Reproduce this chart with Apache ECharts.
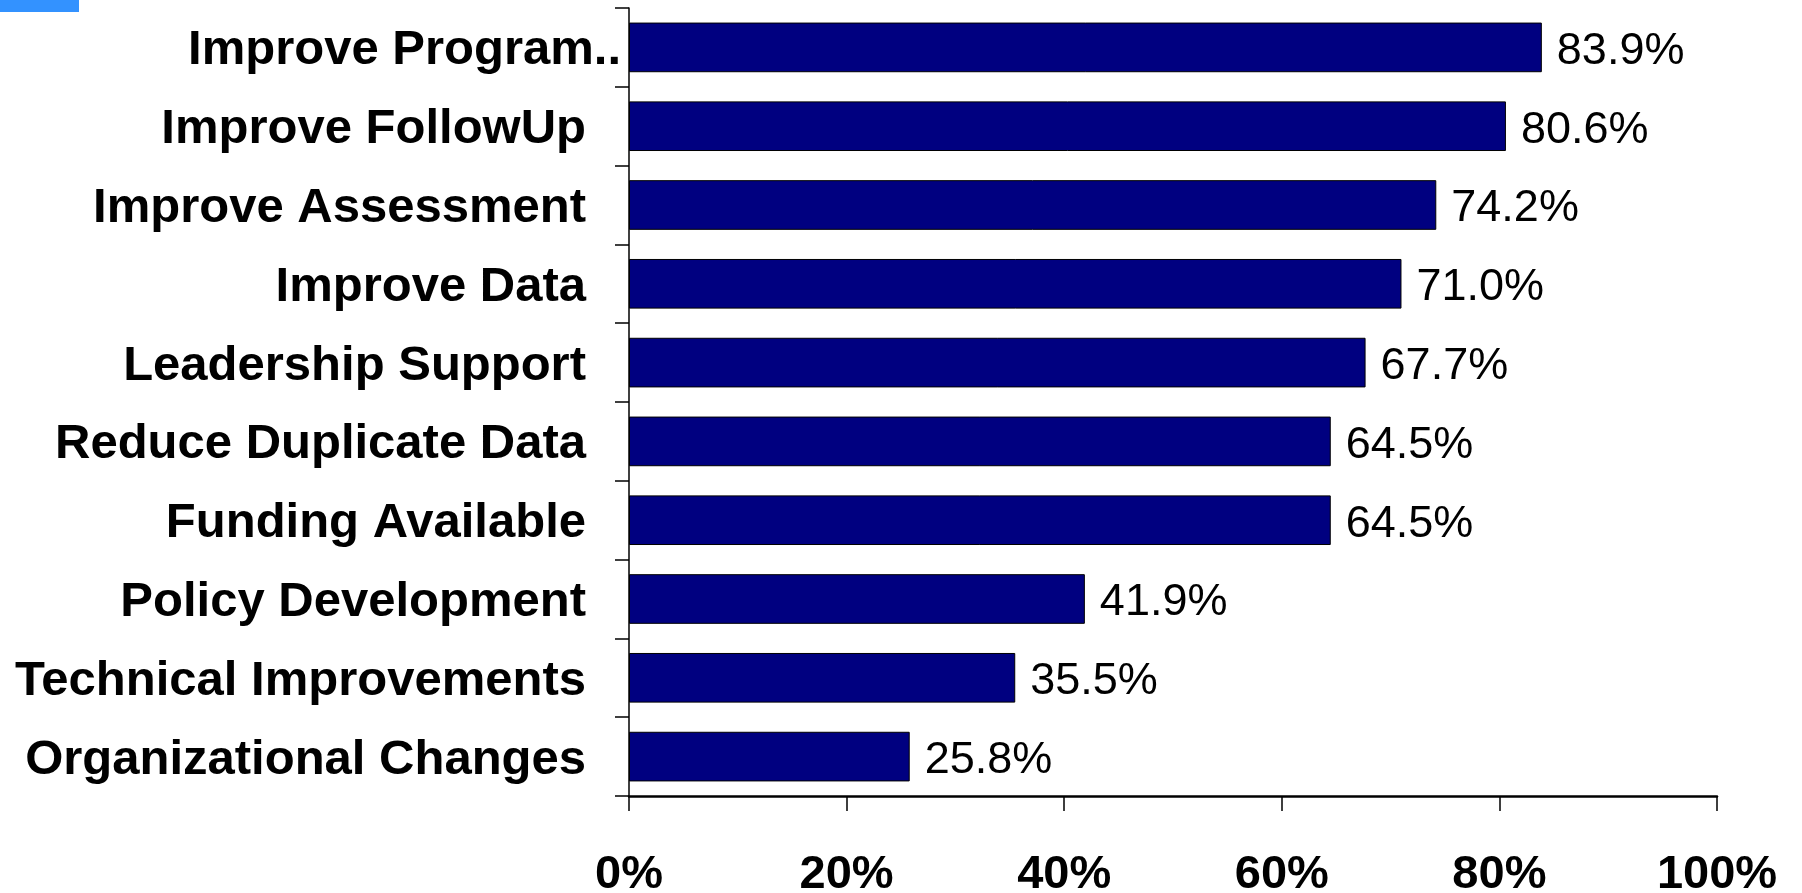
<!DOCTYPE html>
<html>
<head>
<meta charset="utf-8">
<script src="https://cdn.jsdelivr.net/npm/echarts@6/dist/echarts.min.js"></script>
<style>
  html, body { margin: 0; padding: 0; background: #ffffff; }
  #chart { width: 1802px; height: 893px; }
</style>
</head>
<body>
<div id="chart"></div>
<script>
// Share of respondents citing each factor (percent)
const categories = [
  'Improve Program..',
  'Improve FollowUp',
  'Improve Assessment',
  'Improve Data',
  'Leadership Support',
  'Reduce Duplicate Data',
  'Funding Available',
  'Policy Development',
  'Technical Improvements',
  'Organizational Changes'
];
const values = [83.9, 80.6, 74.2, 71.0, 67.7, 64.5, 64.5, 41.9, 35.5, 25.8];
const xTicks = [0, 20, 40, 60, 80, 100];

const chart = echarts.init(document.getElementById('chart'), null, { renderer: 'canvas' });

const FONT = '"Liberation Sans", Arial, Helvetica, sans-serif';

chart.setOption({
  animation: false,
  backgroundColor: '#ffffff',
  grid: {
    left: 629, right: 85, top: 8, bottom: 97,
    containLabel: false,
    outerBoundsMode: 'none'
  },
  graphic: [
    { type: 'rect', left: 0, top: 0, shape: { width: 79, height: 12 }, style: { fill: '#3392ff' } }
  ],
  xAxis: {
    type: 'value',
    min: xTicks[0],
    max: xTicks[xTicks.length - 1],
    interval: xTicks[1] - xTicks[0],
    axisLine: { show: true, lineStyle: { color: '#000', width: 2.5 } },
    axisTick: { show: true, length: 15, lineStyle: { color: '#000', width: 1.5 } },
    splitLine: { show: false },
    axisLabel: {
      margin: 56,
      formatter: '{value}%',
      fontFamily: FONT,
      fontWeight: 'bold',
      fontSize: 47,
      color: '#000'
    }
  },
  yAxis: {
    type: 'category',
    data: categories,
    inverse: true,
    axisLine: { show: true, lineStyle: { color: '#000', width: 1.5 } },
    axisTick: { show: true, length: 14, lineStyle: { color: '#000', width: 1.5 } },
    axisLabel: {
      margin: 8,
      fontFamily: FONT,
      fontWeight: 'bold',
      fontSize: 49,
      color: '#000',
      formatter: function (v, i) {
        return i === 0 ? '{t|' + v + '}' : '{n|' + v + '}';
      },
      rich: {
        t: { fontFamily: FONT, fontWeight: 'bold', fontSize: 49, color: '#000', padding: [7, 0, 0, 0] },
        n: { fontFamily: FONT, fontWeight: 'bold', fontSize: 49, color: '#000', padding: [7, 35, 0, 0] }
      }
    }
  },
  series: [{
    type: 'bar',
    data: values,
    barCategoryGap: '37%',
    itemStyle: { color: '#000080', borderColor: '#000', borderWidth: 1 },
    label: {
      show: true,
      position: 'right',
      distance: 15,
      offset: [0, 4],
      formatter: function (p) { return p.value.toFixed(1) + '%'; },
      fontFamily: FONT,
      fontSize: 45,
      color: '#000'
    }
  }]
});
</script>
</body>
</html>
